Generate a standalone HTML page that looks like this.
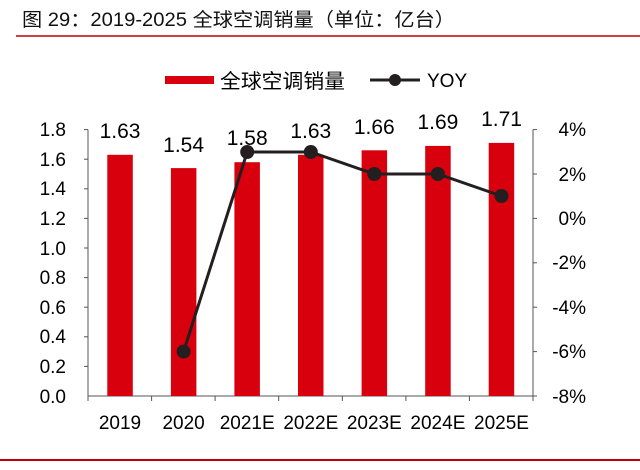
<!DOCTYPE html>
<html><head><meta charset="utf-8"><style>
body{margin:0;background:#fff;width:640px;height:465px;overflow:hidden}
</style></head><body>
<svg width="640" height="465" xmlns="http://www.w3.org/2000/svg" font-family="'Liberation Sans','Noto Sans CJK SC',sans-serif">
<text x="22" y="26" font-size="19" fill="#111" textLength="433" lengthAdjust="spacingAndGlyphs">图 29：2019-2025 全球空调销量（单位：亿台）</text>
<line x1="16" y1="36" x2="640" y2="36" stroke="#c00000" stroke-width="1.5"/>
<line x1="0" y1="460" x2="640" y2="460" stroke="#c00000" stroke-width="2"/>
<!-- legend -->
<rect x="165" y="76" width="49" height="8" fill="#d9000d"/>
<text x="220" y="88" font-size="20" fill="#000" textLength="125" lengthAdjust="spacingAndGlyphs">全球空调销量</text>
<line x1="370" y1="80" x2="420" y2="80" stroke="#231f20" stroke-width="3"/>
<circle cx="395" cy="80" r="6" fill="#231f20"/>
<text x="427" y="87" font-size="19" fill="#000">YOY</text>
<!-- axes -->
<g stroke="#555" stroke-width="1">
<line x1="88" y1="129.6" x2="88" y2="396"/>
<line x1="533" y1="129.6" x2="533" y2="396"/>
<line x1="88" y1="396" x2="533" y2="396"/>
<line x1="84" y1="129.6" x2="88" y2="129.6"/><line x1="84" y1="159.2" x2="88" y2="159.2"/><line x1="84" y1="188.8" x2="88" y2="188.8"/><line x1="84" y1="218.4" x2="88" y2="218.4"/><line x1="84" y1="248" x2="88" y2="248"/><line x1="84" y1="277.6" x2="88" y2="277.6"/><line x1="84" y1="307.2" x2="88" y2="307.2"/><line x1="84" y1="336.8" x2="88" y2="336.8"/><line x1="84" y1="366.4" x2="88" y2="366.4"/>
<line x1="533" y1="129.6" x2="537" y2="129.6"/><line x1="533" y1="174" x2="537" y2="174"/><line x1="533" y1="218.4" x2="537" y2="218.4"/><line x1="533" y1="262.8" x2="537" y2="262.8"/><line x1="533" y1="307.2" x2="537" y2="307.2"/><line x1="533" y1="351.6" x2="537" y2="351.6"/><line x1="533" y1="396" x2="537" y2="396"/>
<line x1="88" y1="396" x2="88" y2="401"/><line x1="151.6" y1="396" x2="151.6" y2="401"/><line x1="215.1" y1="396" x2="215.1" y2="401"/><line x1="278.7" y1="396" x2="278.7" y2="401"/><line x1="342.3" y1="396" x2="342.3" y2="401"/><line x1="405.9" y1="396" x2="405.9" y2="401"/><line x1="469.4" y1="396" x2="469.4" y2="401"/><line x1="533" y1="396" x2="533" y2="401"/>
</g>
<g font-size="19" fill="#000" text-anchor="end">
<text x="66" y="136">1.8</text><text x="66" y="166">1.6</text><text x="66" y="195">1.4</text><text x="66" y="225">1.2</text><text x="66" y="255">1.0</text><text x="66" y="284">0.8</text><text x="66" y="314">0.6</text><text x="66" y="343">0.4</text><text x="66" y="373">0.2</text><text x="66" y="403">0.0</text>
</g>
<g font-size="19" fill="#000" text-anchor="end">
<text x="586" y="136">4%</text><text x="586" y="181">2%</text><text x="586" y="225">0%</text><text x="586" y="269">-2%</text><text x="586" y="314">-4%</text><text x="586" y="358">-6%</text><text x="586" y="403">-8%</text>
</g>
<g fill="#d9000d">
<rect x="107.3" y="154.8" width="25.5" height="241.2"/>
<rect x="170.9" y="168.1" width="25.5" height="227.9"/>
<rect x="234.4" y="162.2" width="25.5" height="233.8"/>
<rect x="298" y="154.8" width="25.5" height="241.2"/>
<rect x="361.6" y="150.3" width="25.5" height="245.7"/>
<rect x="425.2" y="145.9" width="25.5" height="250.1"/>
<rect x="488.7" y="142.9" width="25.5" height="253.1"/>
</g>
<g font-size="21" fill="#000" text-anchor="middle">
<text x="120" y="138">1.63</text><text x="183.6" y="152">1.54</text><text x="247.2" y="145">1.58</text><text x="310.8" y="138">1.63</text><text x="374.3" y="134">1.66</text><text x="437.9" y="129">1.69</text><text x="501.5" y="126">1.71</text>
</g>
<polyline points="183.6,351.6 247.2,152 310.8,152 374.3,174 437.9,174 501.5,196" fill="none" stroke="#231f20" stroke-width="3"/>
<g fill="#231f20">
<circle cx="183.6" cy="351.6" r="7"/><circle cx="247.2" cy="152" r="7"/><circle cx="310.8" cy="152" r="7"/><circle cx="374.3" cy="174" r="7"/><circle cx="437.9" cy="174" r="7"/><circle cx="501.5" cy="196" r="7"/>
</g>
<g font-size="19" fill="#000" text-anchor="middle">
<text x="120" y="429">2019</text><text x="183.6" y="429">2020</text><text x="247.2" y="429">2021E</text><text x="310.8" y="429">2022E</text><text x="374.3" y="429">2023E</text><text x="437.9" y="429">2024E</text><text x="501.5" y="429">2025E</text>
</g>
</svg>
</body></html>
